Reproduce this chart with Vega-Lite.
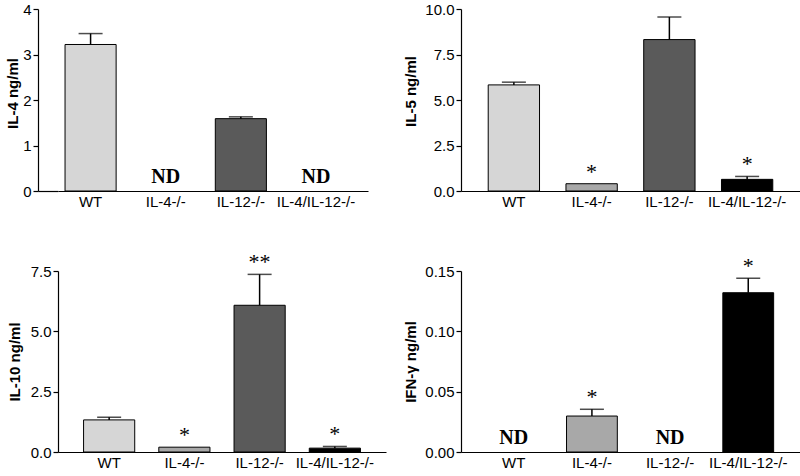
{
  "$schema": "https://vega.github.io/schema/vega-lite/v6.json",
  "padding": {"left": 5, "top": 2, "right": 0, "bottom": 0},
  "background": "white",
  "config": {
    "view": {"stroke": null},
    "font": "Liberation Sans",
    "axis": {"domainColor": "black", "tickColor": "black", "labelColor": "black", "titleColor": "black", "grid": false, "labelFont": "Liberation Sans", "titleFont": "Liberation Sans"},
    "axisX": {"ticks": false, "labelAngle": 0, "labelFontSize": 15, "labelPadding": 3, "title": null, "domainWidth": 1.2},
    "axisY": {"labelFontSize": 15, "labelPadding": 2, "tickSize": 5, "titleFontSize": 15, "titleFontWeight": "bold", "domainWidth": 1.2, "tickWidth": 1.2}
  },
  "columns": 1,
  "align": "none",
  "spacing": 42,
  "concat": [
    {
      "spacing": 35,
      "hconcat": [
        {
          "width": 310, "height": 182,
          "data": {"values": [
            {"group": "WT", "value": 3.22, "hi": 3.46, "note": ""},
            {"group": "IL-4-/-", "value": 0, "hi": 0, "note": "ND"},
            {"group": "IL-12-/-", "value": 1.59, "hi": 1.63, "note": ""},
            {"group": "IL-4/IL-12-/-", "value": 0, "hi": 0, "note": "ND"}
          ]},
          "resolve": {"axis": {"y": "independent"}},
          "encoding": {
            "x": {"field": "group", "type": "nominal", "sort": null, "scale": {"domain": ["WT", "IL-4-/-", "IL-12-/-", "IL-4/IL-12-/-"], "paddingInner": 0.32, "paddingOuter": 0.223, "align": 0.21}}
          },
          "layer": [
            {"transform": [{"filter": "datum.note != 'ND'"}], "mark": {"type": "bar", "stroke": "black", "strokeWidth": 1},
             "encoding": {"y": {"field": "value", "type": "quantitative", "scale": {"domain": [0, 4], "nice": false}, "axis": {"values": [0, 1, 2, 3, 4], "title": "IL-4 ng/ml", "titlePadding": 2, "offset": 20, "titleY": 84}},
               "fill": {"field": "group", "type": "nominal", "legend": null, "scale": {"domain": ["WT", "IL-4-/-", "IL-12-/-", "IL-4/IL-12-/-"], "range": ["#d6d6d6", "#a8a8a8", "#5a5a5a", "#000000"]}}}},
            {"transform": [{"filter": "datum.hi > datum.value"}], "mark": {"type": "rule", "color": "black", "strokeWidth": 1.5},
             "encoding": {"y": {"field": "value", "type": "quantitative", "axis": {"orient": "left", "values": [0], "tickSize": 20, "labels": false, "domain": false, "title": null, "offset": 0}}, "y2": {"field": "hi"}}},
            {"transform": [{"filter": "datum.hi > datum.value"}], "mark": {"type": "tick", "color": "black", "size": 24, "thickness": 1.5},
             "encoding": {"y": {"field": "hi", "type": "quantitative", "axis": null}}},
            {"transform": [{"filter": "datum.note == 'ND'"}], "mark": {"type": "text", "font": "Liberation Serif", "fontWeight": "bold", "fontSize": 20, "baseline": "alphabetic", "dy": -8, "color": "black"},
             "encoding": {"y": {"field": "value", "type": "quantitative", "axis": null}, "text": {"field": "note"}}}
          ]
        },
        {
          "width": 339, "height": 182,
          "data": {"values": [
            {"group": "WT", "value": 5.83, "hi": 5.98, "note": ""},
            {"group": "IL-4-/-", "value": 0.4, "hi": 0.4, "note": "*"},
            {"group": "IL-12-/-", "value": 8.32, "hi": 9.56, "note": ""},
            {"group": "IL-4/IL-12-/-", "value": 0.64, "hi": 0.8, "note": "*"}
          ]},
          "encoding": {
            "x": {"field": "group", "type": "nominal", "sort": null, "scale": {"domain": ["WT", "IL-4-/-", "IL-12-/-", "IL-4/IL-12-/-"], "paddingInner": 0.34, "paddingOuter": 0.35}}
          },
          "layer": [
            {"mark": {"type": "bar", "stroke": "black", "strokeWidth": 1},
             "encoding": {"y": {"field": "value", "type": "quantitative", "scale": {"domain": [0, 10], "nice": false}, "axis": {"values": [0, 2.5, 5, 7.5, 10], "format": ".1f", "title": "IL-5 ng/ml", "titlePadding": 6, "titleY": 82}},
               "fill": {"field": "group", "type": "nominal", "legend": null, "scale": {"domain": ["WT", "IL-4-/-", "IL-12-/-", "IL-4/IL-12-/-"], "range": ["#d6d6d6", "#a8a8a8", "#5a5a5a", "#000000"]}}}},
            {"transform": [{"filter": "datum.hi > datum.value"}], "mark": {"type": "rule", "color": "black", "strokeWidth": 1.5},
             "encoding": {"y": {"field": "value", "type": "quantitative"}, "y2": {"field": "hi"}}},
            {"transform": [{"filter": "datum.hi > datum.value"}], "mark": {"type": "tick", "color": "black", "size": 24, "thickness": 1.5},
             "encoding": {"y": {"field": "hi", "type": "quantitative"}}},
            {"transform": [{"filter": "datum.note == '*' || datum.note == '**'"}], "mark": {"type": "text", "font": "Liberation Serif", "fontSize": 22, "baseline": "alphabetic", "dy": -5, "color": "black"},
             "encoding": {"y": {"field": "hi", "type": "quantitative"}, "text": {"field": "note"}}}
          ]
        }
      ]
    },
    {
      "spacing": 17,
      "hconcat": [
        {
          "width": 328, "height": 181,
          "data": {"values": [
            {"group": "WT", "value": 1.33, "hi": 1.44, "note": ""},
            {"group": "IL-4-/-", "value": 0.2, "hi": 0.2, "note": "*"},
            {"group": "IL-12-/-", "value": 6.08, "hi": 7.36, "note": "**"},
            {"group": "IL-4/IL-12-/-", "value": 0.16, "hi": 0.23, "note": "*"}
          ]},
          "encoding": {
            "x": {"field": "group", "type": "nominal", "sort": null, "scale": {"domain": ["WT", "IL-4-/-", "IL-12-/-", "IL-4/IL-12-/-"], "paddingInner": 0.32, "paddingOuter": 0.34}}
          },
          "layer": [
            {"mark": {"type": "bar", "stroke": "black", "strokeWidth": 1},
             "encoding": {"y": {"field": "value", "type": "quantitative", "scale": {"domain": [0, 7.5], "nice": false}, "axis": {"values": [0, 2.5, 5, 7.5], "format": ".1f", "title": "IL-10 ng/ml", "titlePadding": 8}},
               "fill": {"field": "group", "type": "nominal", "legend": null, "scale": {"domain": ["WT", "IL-4-/-", "IL-12-/-", "IL-4/IL-12-/-"], "range": ["#d6d6d6", "#a8a8a8", "#5a5a5a", "#000000"]}}}},
            {"transform": [{"filter": "datum.hi > datum.value"}], "mark": {"type": "rule", "color": "black", "strokeWidth": 1.5},
             "encoding": {"y": {"field": "value", "type": "quantitative"}, "y2": {"field": "hi"}}},
            {"transform": [{"filter": "datum.hi > datum.value"}], "mark": {"type": "tick", "color": "black", "size": 24, "thickness": 1.5},
             "encoding": {"y": {"field": "hi", "type": "quantitative"}}},
            {"transform": [{"filter": "datum.note == '*' || datum.note == '**'"}], "mark": {"type": "text", "font": "Liberation Serif", "fontSize": 22, "baseline": "alphabetic", "dy": -5, "color": "black"},
             "encoding": {"y": {"field": "hi", "type": "quantitative"}, "text": {"field": "note"}}}
          ]
        },
        {
          "width": 340, "height": 181,
          "data": {"values": [
            {"group": "WT", "value": 0, "hi": 0, "note": "ND"},
            {"group": "IL-4-/-", "value": 0.0298, "hi": 0.0354, "note": "*"},
            {"group": "IL-12-/-", "value": 0, "hi": 0, "note": "ND"},
            {"group": "IL-4/IL-12-/-", "value": 0.132, "hi": 0.144, "note": "*"}
          ]},
          "encoding": {
            "x": {"field": "group", "type": "nominal", "sort": null, "scale": {"domain": ["WT", "IL-4-/-", "IL-12-/-", "IL-4/IL-12-/-"], "paddingInner": 0.35, "paddingOuter": 0.35}}
          },
          "layer": [
            {"transform": [{"filter": "datum.note != 'ND'"}], "mark": {"type": "bar", "stroke": "black", "strokeWidth": 1},
             "encoding": {"y": {"field": "value", "type": "quantitative", "scale": {"domain": [0, 0.15], "nice": false}, "axis": {"values": [0, 0.05, 0.1, 0.15], "format": ".2f", "title": "IFN-γ ng/ml", "titlePadding": 6}},
               "fill": {"field": "group", "type": "nominal", "legend": null, "scale": {"domain": ["WT", "IL-4-/-", "IL-12-/-", "IL-4/IL-12-/-"], "range": ["#d6d6d6", "#a8a8a8", "#5a5a5a", "#000000"]}}}},
            {"transform": [{"filter": "datum.hi > datum.value"}], "mark": {"type": "rule", "color": "black", "strokeWidth": 1.5},
             "encoding": {"y": {"field": "value", "type": "quantitative"}, "y2": {"field": "hi"}}},
            {"transform": [{"filter": "datum.hi > datum.value"}], "mark": {"type": "tick", "color": "black", "size": 24, "thickness": 1.5},
             "encoding": {"y": {"field": "hi", "type": "quantitative"}}},
            {"transform": [{"filter": "datum.note == '*' || datum.note == '**'"}], "mark": {"type": "text", "font": "Liberation Serif", "fontSize": 22, "baseline": "alphabetic", "dy": -5, "color": "black"},
             "encoding": {"y": {"field": "hi", "type": "quantitative"}, "text": {"field": "note"}}},
            {"transform": [{"filter": "datum.note == 'ND'"}], "mark": {"type": "text", "font": "Liberation Serif", "fontWeight": "bold", "fontSize": 20, "baseline": "alphabetic", "dy": -8, "color": "black"},
             "encoding": {"y": {"field": "value", "type": "quantitative"}, "text": {"field": "note"}}}
          ]
        }
      ]
    }
  ]
}
